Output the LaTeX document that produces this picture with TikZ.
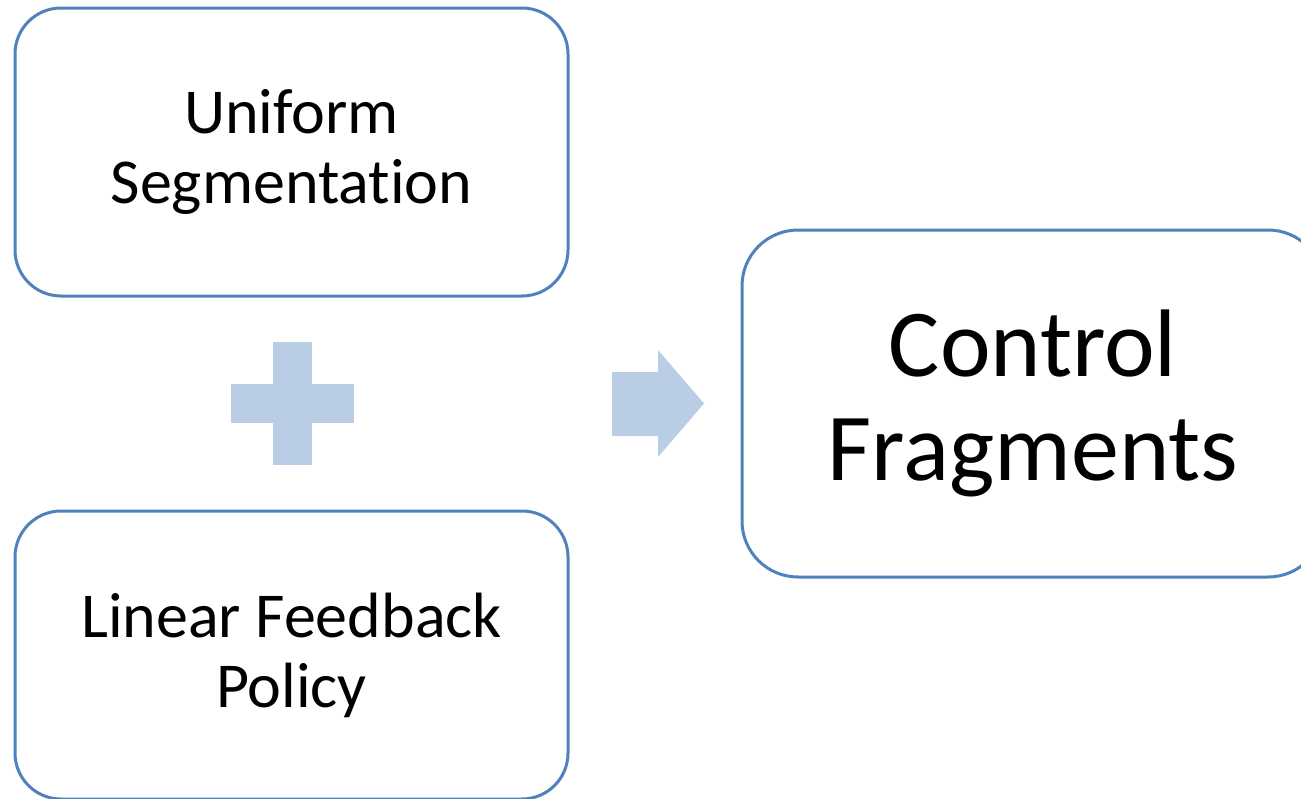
\documentclass[tikz,border=0pt]{standalone}
\usepackage{fontspec}
\setmainfont[Ligatures=NoCommon]{Carlito}
\usetikzlibrary{calc}
\definecolor{boxline}{HTML}{4F81BD}
\definecolor{shapefill}{HTML}{B9CDE5}
\tikzset{
  card/.style={draw=boxline, line width=3pt, rounded corners=46pt, fill=white,
    minimum width=553pt, minimum height=288pt, align=center, inner sep=0pt,
    font=\fontsize{64}{70}\selectfont},
  bigcard/.style={card, rounded corners=56pt, minimum width=582pt, minimum height=347pt,
    font=\fontsize{96}{104}\selectfont},
  solidshape/.style={fill=shapefill, draw=none}
}
\begin{document}
\begin{tikzpicture}[x=1pt, y=-1pt]
  \useasboundingbox (0,0) rectangle (1301,798);
  % input boxes
  \node[card] (seg) at (291.5,152) {Uniform\\Segmentation};
  \node[card] (lfp) at (291.5,655) {Linear Feedback\\Policy};
  % result box
  \node[bigcard] (cf) at (1033,403.5) {Control\\Fragments};
  % plus sign between the inputs
  \coordinate (plus) at (292.5,403.5);
  \fill[solidshape] ($(plus)+(-19.5,-61.5)$) rectangle ($(plus)+(19.5,61.5)$);
  \fill[solidshape] ($(plus)+(-61.5,-19.5)$) rectangle ($(plus)+(61.5,19.5)$);
  % block arrow towards the result
  \fill[solidshape] (612,372) -- (658,372) -- (658,350) -- (704,403.5)
    -- (658,457) -- (658,436) -- (612,436) -- cycle;
\end{tikzpicture}
\end{document}
